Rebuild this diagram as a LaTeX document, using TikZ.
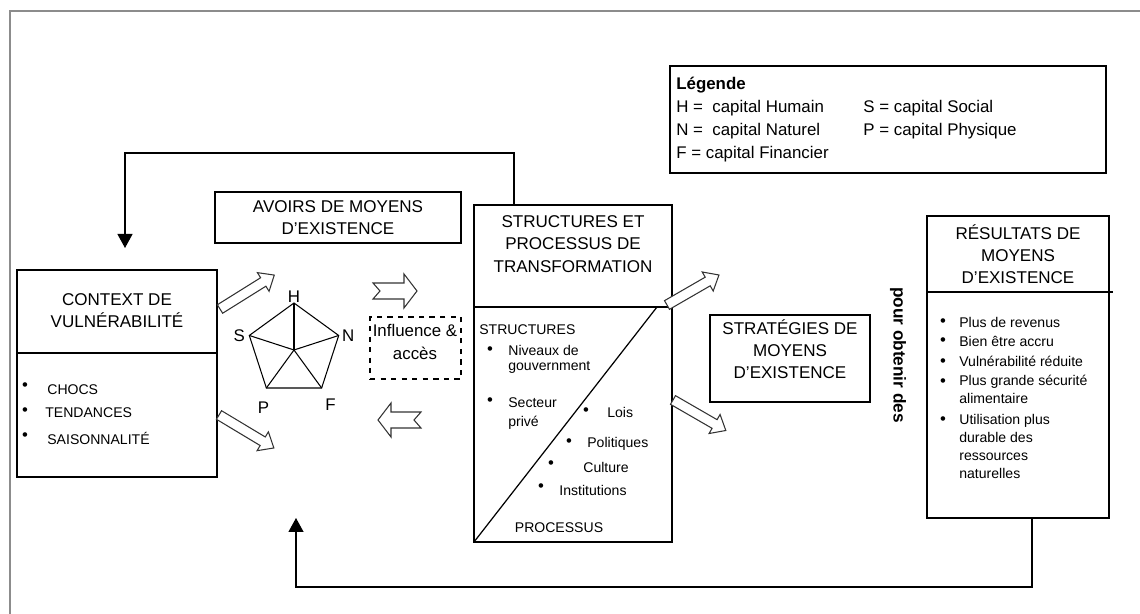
\documentclass[tikz,border=0pt]{standalone}
\usepackage{fontspec}
\setmainfont{Liberation Sans}
\usetikzlibrary{arrows.meta,positioning,shapes.geometric}

\begin{document}
\begin{tikzpicture}[
  x=0.02cm, y=-0.02cm,
  box/.style={draw, line width=0.7pt, inner sep=0pt, outer sep=0pt},
  title/.style={font=\fontsize{9.7}{12.6}\selectfont, align=center, inner sep=0pt},
  item/.style={font=\fontsize{8}{10.4}\selectfont, anchor=west, align=left, inner sep=0pt},
  dot/.style={font=\fontsize{9.5}{10}\selectfont, inner sep=0pt, yshift=-0.03cm},
  key/.style={font=\fontsize{9.6}{12}\selectfont, anchor=west, inner sep=0pt},
  lbl/.style={font=\fontsize{9.6}{12}\selectfont, inner sep=0pt},
  fb/.style={line width=0.7pt, -{Triangle[length=0.28cm, width=0.3cm]}},
  hollow/.style={draw=black!80, line width=0.6pt, fill=white, line join=miter},
  pics/slantarrow/.style={code={
    \draw[hollow] (0,-5) -- (#1-13,-5) -- (#1-13,-11) -- (#1,0) -- (#1-13,11) -- (#1-13,5) -- (0,5) -- cycle;}},
  pics/notcharrow/.style={code={
    \draw[hollow] (0,-8) -- (#1-13,-8) -- (#1-13,-17) -- (#1,0) -- (#1-13,17) -- (#1-13,8) -- (0,8) -- (7,0) -- cycle;}}
]
\useasboundingbox (0,0) rectangle (1140,614);
\draw[black!45, line width=1pt] (1140,11) -- (10,11) -- (10,614);

% legend
\node[box, minimum width=8.72cm, minimum height=2.14cm] (legend) at (888,119.5) {};
\node[key, font=\fontsize{9.6}{12}\selectfont\bfseries] (lgt) at (676,85) {Légende};
\node[key] (lgh) at (676,108) {H =\ \ capital Humain};
\node[key] (lgn) at (676,131) {N =\ \ capital Naturel};
\node[key] (lgf) at (676,154) {F = capital Financier};
\node[key] (lgs) at (863,108) {S = capital Social};
\node[key] (lgp) at (863,131) {P = capital Physique};

% context
\node[box, minimum width=4cm, minimum height=4.14cm] (ctx) at (117,373.5) {};
\draw[line width=0.7pt] (ctx.west |- 0,353) -- (ctx.east |- 0,353);
\node[title] (ctxt) at (117,310.5) {CONTEXT DE\\VULNÉRABILITÉ};
\node[dot] (cd1) at (25,385) {•};
\node[dot] (cd2) at (25,410) {•};
\node[dot] (cd3) at (25,435) {•};
\node[item] (ci1) at (47,390) {CHOCS};
\node[item] (ci2) at (45,413) {TENDANCES};
\node[item] (ci3) at (47,438) {SAISONNALITÉ};

% assets
\node[box, title, minimum width=4.92cm, minimum height=1.02cm] (avoirs) at (338,217.5) {AVOIRS DE MOYENS\\D'EXISTENCE};
\node[regular polygon, regular polygon sides=5, draw, line width=0.6pt, minimum size=1.88cm, inner sep=0pt, outer sep=0pt] (pent) at (294,350) {};
\foreach \i in {1,...,5} \draw[line width=0.6pt] (pent.center) -- (pent.corner \i);
\node[lbl, above=0pt of pent.corner 1] (lh) {H};
\node[lbl, right=0.06cm of pent.corner 5] (ln) {N};
\node[lbl, left=0.08cm of pent.corner 2] (ls) {S};
\node[lbl] (lp) at ([xshift=-0.06cm, yshift=-0.4cm]pent.corner 3) {P};
\node[lbl] (lf) at ([xshift=0.18cm, yshift=-0.34cm]pent.corner 4) {F};

% influence
\node[box, dashed, minimum width=1.82cm, minimum height=1.24cm] (infl) at (415.5,348) {};
\node[title, font=\fontsize{9.6}{12.6}\selectfont] (inflt) at (415,342) {Influence \&\\accès};

% structures
\node[box, minimum width=3.96cm, minimum height=6.74cm] (strc) at (573,373.5) {};
\draw[line width=0.7pt] (strc.west |- 0,307) -- (strc.east |- 0,307);
\draw[line width=0.7pt] (strc.south west) -- (657,307);
\node[title] (strct) at (573,244) {STRUCTURES ET\\PROCESSUS DE\\TRANSFORMATION};
\node[item] (st) at (479,330) {STRUCTURES};
\node[dot] (sd1) at (490,349) {•};
\node[item, font=\fontsize{8}{8.6}\selectfont] (si1) at (508,359.5) {Niveaux de\\gouvernment};
\node[dot] (sd2) at (490,400) {•};
\node[item, font=\fontsize{8}{10.8}\selectfont] (si2) at (508,413.5) {Secteur\\privé};
\node[dot] (pd1) at (586,410) {•};
\node[item] (pi1) at (607,412) {Lois};
\node[dot] (pd2) at (569,441) {•};
\node[item] (pi2) at (587,444) {Politiques};
\node[dot] (pd3) at (551,463) {•};
\node[item] (pi3) at (583,467) {Culture};
\node[dot] (pd4) at (541,486) {•};
\node[item] (pi4) at (559,490) {Institutions};
\node[item, anchor=center] (pt) at (559,528) {PROCESSUS};

% strategies
\node[box, minimum width=3.2cm, minimum height=1.74cm] (strat) at (790,358.5) {};
\node[title] (stratt) at (790,349) {STRATÉGIES DE\\MOYENS\\D'EXISTENCE};
\node[font=\fontsize{9.8}{12}\selectfont\bfseries, rotate=-90, inner sep=0pt] (pour) at (898,355) {pour obtenir des};

% outcomes
\node[box, minimum width=3.64cm, minimum height=6.04cm] (res) at (1018,367) {};
\draw[line width=0.7pt] (res.west |- 0,292) -- (1113,292);
\node[title] (rest) at (1018,254.5) {RÉSULTATS DE\\MOYENS\\D'EXISTENCE};
\node[dot] (rd1) at (943,321) {•};
\node[dot] (rd2) at (943,340) {•};
\node[dot] (rd3) at (943,361) {•};
\node[dot] (rd4) at (943,381) {•};
\node[dot] (rd5) at (943,419) {•};
\node[item] (ri1) at (959,322) {Plus de revenus};
\node[item] (ri2) at (959,341) {Bien être accru};
\node[item] (ri3) at (959,361) {Vulnérabilité réduite};
\node[item, font=\fontsize{8}{9.8}\selectfont] (ri4) at (959,389.5) {Plus grande sécurité\\alimentaire};
\node[item] (ri5) at (959,446.5) {Utilisation plus\\durable des\\ressources\\naturelles};

% block arrows
\pic[rotate=32] at (220,309) {slantarrow=64};
\pic[rotate=-31] at (219,415) {slantarrow=64};
\pic at (373,291) {notcharrow=44};
\pic[rotate=180] at (421,420) {notcharrow=43};
\pic[rotate=30] at (667,305) {slantarrow=60};
\pic[rotate=-30] at (673,400) {slantarrow=61};

% feedback loops
\coordinate (ctxin) at (125,248);
\coordinate (assetin) at (296,518);
\draw[fb] ([xshift=-1.18cm]strc.north) -- ++(0,-52) -| (ctxin);
\draw[fb] ([xshift=0.28cm]res.south) -- ++(0,69) -| (assetin);
\end{tikzpicture}
\end{document}
